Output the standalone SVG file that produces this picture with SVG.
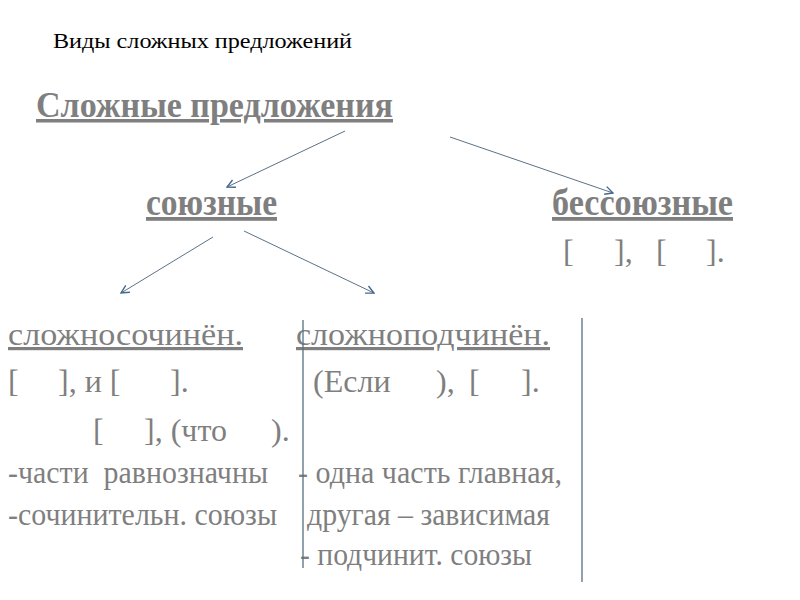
<svg xmlns="http://www.w3.org/2000/svg" width="800" height="600" viewBox="0 0 800 600">
<style>
text{font-family:"Liberation Serif","DejaVu Serif",serif;fill:#7f7f7f;white-space:pre}
.title{fill:#000;font-size:22px}
.h1{font-weight:bold;font-size:35px;text-decoration:underline}
.h2{font-weight:bold;font-size:38px;text-decoration:underline}
.h3{font-size:32px;text-decoration:underline}
.f{font-size:32px}
.s{font-size:31px}
.conn line{stroke:#5b7186;stroke-width:1;fill:none}
.arr{marker-end:url(#ah)}
.sep{stroke:#557080;stroke-width:1.3}
</style>
<defs>
<marker id="ah" viewBox="0 0 10 10" refX="9" refY="5" markerWidth="10" markerHeight="10" markerUnits="userSpaceOnUse" orient="auto">
<path d="M1,1 L9,5 L1,9" fill="none" stroke="#44688a" stroke-width="1.4"/>
</marker>
</defs>
<rect width="800" height="600" fill="#fff"/>
<g id="title"><text class="title" x="53" y="48" textLength="299" lengthAdjust="spacingAndGlyphs">Виды сложных предложений</text></g>
<g id="root"><text class="h1" x="36" y="117" textLength="357" lengthAdjust="spacingAndGlyphs">Сложные предложения</text></g>
<g id="soyuznye"><text class="h2" x="146" y="215" textLength="131" lengthAdjust="spacingAndGlyphs">союзные</text></g>
<g id="bessoyuznye">
<text class="h2" x="552" y="215" textLength="181" lengthAdjust="spacingAndGlyphs">бессоюзные</text>
<text class="f" y="262"><tspan x="563">[</tspan><tspan x="614">],</tspan><tspan x="656">[</tspan><tspan x="706">].</tspan></text>
</g>
<g id="slozhnosochinen">
<text class="h3" x="8" y="345" textLength="235" lengthAdjust="spacingAndGlyphs">сложносочинён.</text>
<text class="f" y="392"><tspan x="8">[</tspan><tspan x="58">], и [</tspan><tspan x="170">].</tspan></text>
<text class="f" y="441"><tspan x="93">[</tspan><tspan x="144">], (что</tspan><tspan x="271">).</tspan></text>
<text class="s" x="8" y="483" textLength="260" lengthAdjust="spacingAndGlyphs">-части  равнозначны</text>
<text class="s" x="8" y="525" textLength="269" lengthAdjust="spacingAndGlyphs">-сочинительн. союзы</text>
</g>
<g id="slozhnopodchinen">
<text class="h3" x="296" y="345" textLength="254" lengthAdjust="spacingAndGlyphs">сложноподчинён.</text>
<text class="f" y="392"><tspan x="313">(Если</tspan><tspan x="436">),</tspan><tspan x="469">[</tspan><tspan x="521">].</tspan></text>
<text class="s" x="298" y="483" textLength="264" lengthAdjust="spacingAndGlyphs">- одна часть главная,</text>
<text class="s" x="307" y="525" textLength="243" lengthAdjust="spacingAndGlyphs">другая – зависимая</text>
<text class="s" x="300" y="565" textLength="232" lengthAdjust="spacingAndGlyphs">- подчинит. союзы</text>
</g>
<g id="separators">
<line class="sep" x1="303" y1="320" x2="303" y2="568"/>
<line class="sep" x1="582" y1="318" x2="582" y2="582"/>
</g>
<g class="conn" id="connectors">
<line class="arr" x1="345" y1="131" x2="227" y2="187"/>
<line class="arr" x1="450" y1="137" x2="613" y2="193"/>
<line class="arr" x1="213" y1="237" x2="121" y2="293"/>
<line class="arr" x1="244" y1="231" x2="374" y2="293"/>
</g>
</svg>
